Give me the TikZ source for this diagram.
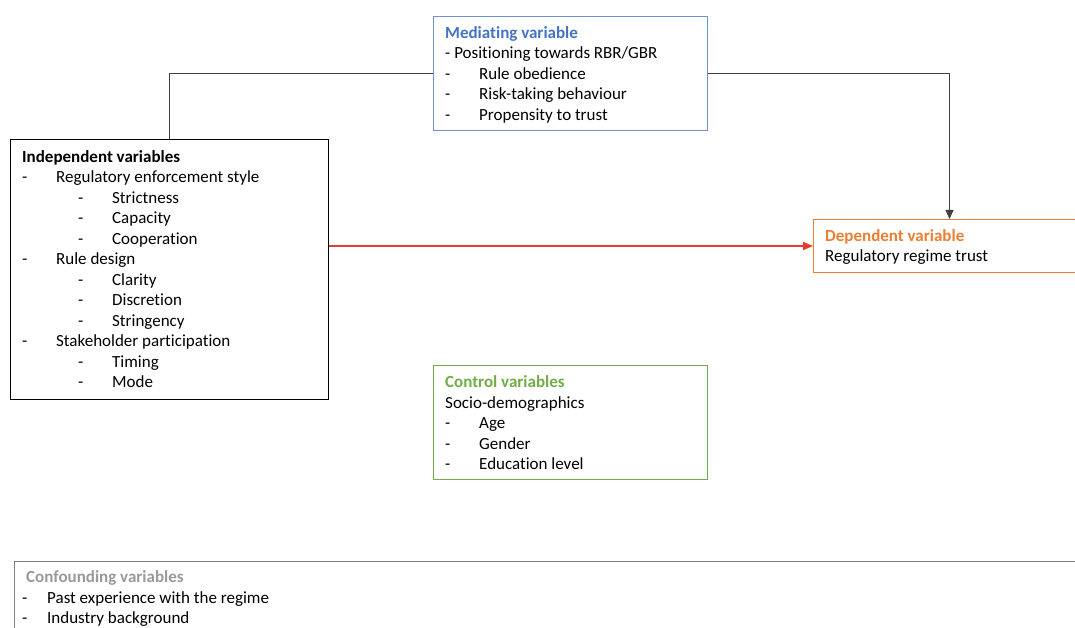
\documentclass[tikz,border=0pt]{standalone}
\usepackage{fontspec}
\setmainfont{Carlito}[Ligatures=NoCommon]
\usetikzlibrary{arrows.meta}
\definecolor{medblue}{HTML}{4472C4}
\definecolor{medborder}{HTML}{6F8FD6}
\definecolor{deporange}{HTML}{ED7D31}
\definecolor{ctrlgreen}{HTML}{70AD47}
\definecolor{confgray}{HTML}{999999}
\definecolor{confborder}{HTML}{808080}
\definecolor{linegray}{HTML}{404040}
\definecolor{arrowred}{HTML}{E83A2E}
\newcommand\tabd[2][34pt]{\makebox[#1][l]{-}#2}
\begin{document}
\begin{tikzpicture}[x=1pt,y=-1pt,
  box/.style={draw, rectangle, line width=1pt, inner sep=0pt, anchor=north west},
  txt/.style={anchor=base west, inner sep=0pt, font=\fontsize{17}{20.5}\selectfont},
  conn/.style={draw=linegray, line width=0.8pt},
  tip/.style={-{Triangle[length=9pt,width=8pt]}}]
\useasboundingbox (0,0) rectangle (1075,628);
% boxes
\node[box, draw=medborder, minimum width=274pt, minimum height=114pt] (med) at (433,16) {};
\node[box, draw=black, minimum width=318pt, minimum height=260pt] (ind) at (10,139) {};
\node[box, draw=deporange, minimum width=272pt, minimum height=53pt] (dep) at (813,219) {};
\node[box, draw=ctrlgreen, minimum width=274pt, minimum height=114pt] (ctrl) at (433,365) {};
\node[box, draw=confborder, minimum width=1080pt, minimum height=90pt] (conf) at (14,561) {};
% texts
\node[txt] (medt) at (445,38.5) {\parbox[t]{260pt}{%
  \textcolor{medblue}{\bfseries Mediating variable}\\
  - Positioning towards RBR/GBR\\
  \tabd{Rule obedience}\\
  \tabd{Risk-taking behaviour}\\
  \tabd{Propensity to trust}}};
\node[txt] (indt) at (22,162.5) {\parbox[t]{300pt}{%
  {\bfseries Independent variables}\\
  \tabd{Regulatory enforcement style}\\
  \hspace*{56pt}\tabd{Strictness}\\
  \hspace*{56pt}\tabd{Capacity}\\
  \hspace*{56pt}\tabd{Cooperation}\\
  \tabd{Rule design}\\
  \hspace*{56pt}\tabd{Clarity}\\
  \hspace*{56pt}\tabd{Discretion}\\
  \hspace*{56pt}\tabd{Stringency}\\
  \tabd{Stakeholder participation}\\
  \hspace*{56pt}\tabd{Timing}\\
  \hspace*{56pt}\tabd{Mode}}};
\node[txt] (dept) at (825,241.5) {\parbox[t]{250pt}{%
  \textcolor{deporange}{\bfseries Dependent variable}\\
  Regulatory regime trust}};
\node[txt] (ctrlt) at (445,387.5) {\parbox[t]{260pt}{%
  \textcolor{ctrlgreen}{\bfseries Control variables}\\
  Socio-demographics\\
  \tabd{Age}\\
  \tabd{Gender}\\
  \tabd{Education level}}};
\node[txt] (conft) at (26,582.5) {\parbox[t]{400pt}{%
  \textcolor{confgray}{\bfseries Confounding variables}\\
  \hspace*{-4pt}\tabd[25pt]{Past experience with the regime}\\
  \hspace*{-4pt}\tabd[25pt]{Industry background}}};
% connectors
\draw[conn] (ind.north) |- (med.west);
\draw[conn, tip] (med.east) -| (dep.north);
\draw[draw=arrowred, line width=1.8pt, -{Triangle[length=10pt,width=8pt]}] (ind.east |- dep.west) -- (dep.west);
\end{tikzpicture}
\end{document}
